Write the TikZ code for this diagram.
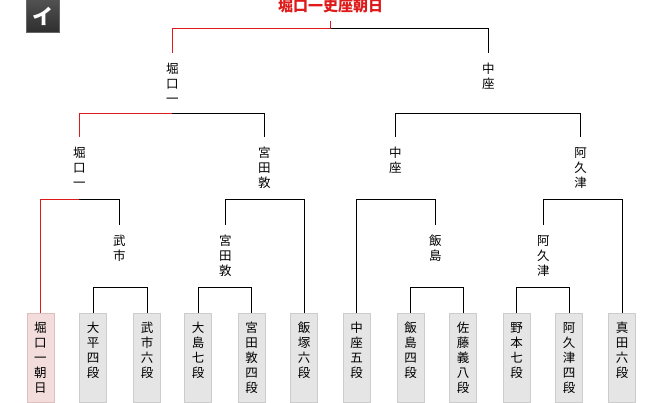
\documentclass[tikz,border=0pt]{standalone}
\usepackage{fontspec}
\newfontfamily\jp{Noto Sans CJK JP}
\definecolor{winred}{RGB}{222,26,26}
\definecolor{boxfill}{RGB}{229,229,229}
\definecolor{boxline}{RGB}{204,204,204}
\definecolor{pinkfill}{RGB}{242,220,220}
\definecolor{pinkline}{RGB}{222,190,190}
\newcommand\ptxt[1]{\parbox[c][89pt][t]{27pt}{\centering\vspace*{8.5pt}#1}}
\tikzset{
  win/.style={draw=winred, line width=1pt},
  lose/.style={draw=black, line width=1pt},
  nm/.style={anchor=north, inner xsep=0pt, inner ysep=10pt, align=center,
    font=\jp\fontsize{12.5}{15}\selectfont},
  pbox/.style={anchor=north, inner sep=0pt, draw=boxline, fill=boxfill, line width=1pt,
    minimum width=27pt, minimum height=89pt, font=\jp\fontsize{12.5}{15}\selectfont},
  pwin/.style={pbox, draw=pinkline, fill=pinkfill},
  ttl/.style={anchor=south, inner sep=0pt, text depth=9pt, text=winred,
    font=\jp\bfseries\fontsize{15}{18}\selectfont},
  badgestyle/.style={draw=black!60, line width=0.8pt, top color=black!68, bottom color=black!82,
    minimum width=33pt, minimum height=33pt, inner sep=0pt, text=white,
    font=\jp\bfseries\fontsize{21}{24}\selectfont}
}
\begin{document}
\begin{tikzpicture}[x=1pt,y=-1pt]
\useasboundingbox (0,0) rectangle (662,403);
\node[badgestyle] (badge) at (42.5,16) {イ};
% title
\node[ttl] (title) at (330.7,21) {堀口一史座朝日};
% level 1 names
\node[nm] (La) at (172.3,52.7) {堀\\口\\一};
\node[nm] (Lb) at (488.3,52.7) {中\\座};
% level 2 names
\node[nm] (Ma) at (79.3,137) {堀\\口\\一};
\node[nm] (Mb) at (264.3,137) {宮\\田\\敦};
\node[nm] (Mc) at (395.3,137) {中\\座};
\node[nm] (Md) at (580.5,137) {阿\\久\\津};
% level 3 names
\node[nm] (Sa) at (119.3,225) {武\\市};
\node[nm] (Sb) at (225.3,225) {宮\\田\\敦};
\node[nm] (Sc) at (435.3,225) {飯\\島};
\node[nm] (Sd) at (543.3,225) {阿\\久\\津};
% players
\node[pwin] (p1) at (40.5,313.3) {\ptxt{堀\\口\\一\\朝\\日}};
\node[pbox] (p2) at (93,313.3) {\ptxt{大\\平\\四\\段}};
\node[pbox] (p3) at (147,313.3) {\ptxt{武\\市\\六\\段}};
\node[pbox] (p4) at (198,313.3) {\ptxt{大\\島\\七\\段}};
\node[pbox] (p5) at (251.5,313.3) {\ptxt{宮\\田\\敦\\四\\段}};
\node[pbox] (p6) at (304,313.3) {\ptxt{飯\\塚\\六\\段}};
\node[pbox] (p7) at (356.5,313.3) {\ptxt{中\\座\\五\\段}};
\node[pbox] (p8) at (410.5,313.3) {\ptxt{飯\\島\\四\\段}};
\node[pbox] (p9) at (463,313.3) {\ptxt{佐\\藤\\義\\八\\段}};
\node[pbox] (p10) at (516.5,313.3) {\ptxt{野\\本\\七\\段}};
\node[pbox] (p11) at (569,313.3) {\ptxt{阿\\久\\津\\四\\段}};
\node[pbox] (p12) at (622,313.3) {\ptxt{真\\田\\六\\段}};
% junctions
\coordinate (j0) at (330.7,28.3);
\coordinate (j1a) at (172.3,113.3);
\coordinate (j1b) at (488.3,113.3);
\coordinate (j2a) at (79.3,200);
\coordinate (j2b) at (264.3,200);
\coordinate (j2c) at (395.3,200);
\coordinate (j2d) at (580.5,200);
\coordinate (j3a) at (119.3,288);
\coordinate (j3b) at (225.3,288);
\coordinate (j3c) at (435.3,288);
\coordinate (j3d) at (543.3,288);
% connectors
\draw[win] (title.south) -- (j0);
\draw[win] (j0) -| (La.north);
\draw[lose] (j0) -| (Lb.north);
\draw[win] (j1a) -| (Ma.north);
\draw[lose] (j1a) -| (Mb.north);
\draw[lose] (j1b) -| (Mc.north);
\draw[lose] (j1b) -| (Md.north);
\draw[win] (j2a) -| (p1.north);
\draw[lose] (j2a) -| (Sa.north);
\draw[lose] (j2b) -| (Sb.north);
\draw[lose] (j2b) -| (p6.north);
\draw[lose] (j2c) -| (p7.north);
\draw[lose] (j2c) -| (Sc.north);
\draw[lose] (j2d) -| (Sd.north);
\draw[lose] (j2d) -| (p12.north);
\draw[lose] (j3a) -| (p2.north);
\draw[lose] (j3a) -| (p3.north);
\draw[lose] (j3b) -| (p4.north);
\draw[lose] (j3b) -| (p5.north);
\draw[lose] (j3c) -| (p8.north);
\draw[lose] (j3c) -| (p9.north);
\draw[lose] (j3d) -| (p10.north);
\draw[lose] (j3d) -| (p11.north);
\end{tikzpicture}
\end{document}
